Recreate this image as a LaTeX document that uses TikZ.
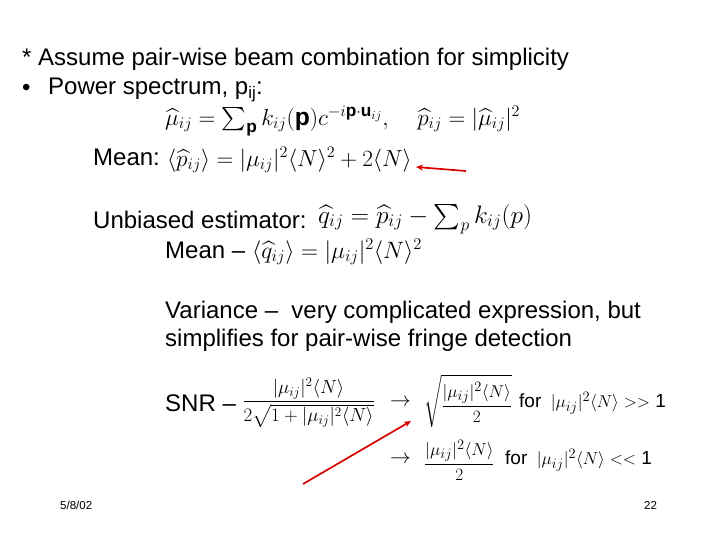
\documentclass[tikz,border=0pt]{standalone}
\usepackage{amsmath}
\usepackage{graphicx}
\usepackage{fontspec}
\setmainfont{Liberation Sans}
\usetikzlibrary{arrows.meta}
\begin{document}
\begin{tikzpicture}[x=1pt,y=-1pt,
  txt/.style={anchor=west,inner sep=0pt,font=\fontsize{24}{28}\selectfont},
  mth/.style={anchor=west,inner sep=0pt,font=\fontsize{22}{26}\selectfont},
  cnd/.style={anchor=west,inner sep=0pt,font=\fontsize{19}{22}\selectfont},
  small/.style={anchor=west,inner sep=0pt,font=\fontsize{11.5}{13}\selectfont},
  redarrow/.style={draw=red!85!black,line width=1.7pt,-{Stealth[length=7pt,width=6pt]}}]
\useasboundingbox[fill=white] (0,0) rectangle (720,540);
\node[txt] (t1) at (22,59) {* Assume pair-wise beam combination for simplicity};
\node[txt] (b1) at (22,90) {\textbullet};
\node[txt] (t2) at (48,90) {Power spectrum, p\textsubscript{ij}:};
\node[mth] (f1) at (165,121) {\scalebox{1.12}{$\widehat{\mu}_{ij}=\sum_{\mathbf{p}}k_{ij}(\mathbf{p})c^{-i\mathbf{p}\cdot\mathbf{u}_{ij}},\quad \widehat{p}_{ij}=|\widehat{\mu}_{ij}|^2$}};
\node[txt] (mean1) at (93,157) {Mean:};
\node[mth,font=\fontsize{21}{25}\selectfont] (f2) at (167,160) {\scalebox{1.12}{$\langle\widehat{p}_{ij}\rangle=|\mu_{ij}|^2\langle N\rangle^2+2\langle N\rangle$}};
\coordinate (a1) at (466,171);
\draw[redarrow] (a1) -- (416,167);
\node[txt] (ue) at (93,220) {Unbiased estimator:};
\node[mth] (f3) at (318,219) {\scalebox{1.22}{$\widehat{q}_{ij}=\widehat{p}_{ij}-\sum_{p}k_{ij}(p)$}};
\node[txt] (mean2) at (165,250) {Mean \textendash};
\node[mth,font=\fontsize{21}{25}\selectfont] (f4) at (252,252) {\scalebox{1.14}{$\langle\widehat{q}_{ij}\rangle=|\mu_{ij}|^2\langle N\rangle^2$}};
\node[txt,align=left] (var) at (165,326) {Variance \textendash\ \ very complicated expression, but\\simplifies for pair-wise fringe detection};
\node[txt] (snr) at (165,403) {SNR \textendash};
\node[mth,font=\fontsize{18.5}{22}\selectfont] (fr1) at (242,403) {\scalebox{1.1}{$\dfrac{|\mu_{ij}|^2\langle N\rangle}{2\sqrt{1+|\mu_{ij}|^2\langle N\rangle}}$}};
\node[mth,font=\fontsize{20}{23}\selectfont] (ar1) at (390,403) {$\rightarrow$};
\node[mth,font=\fontsize{19}{22}\selectfont] (sq) at (424,401) {$\sqrt{\dfrac{|\mu_{ij}|^2\langle N\rangle}{2}}$};
\node[cnd] (c1) at (519,403) {for\enspace$|\mu_{ij}|^2\langle N\rangle>>$ 1};
\node[mth,font=\fontsize{20}{23}\selectfont] (ar2) at (390,460) {$\rightarrow$};
\node[mth,font=\fontsize{19}{22}\selectfont] (fr2) at (424,460) {$\dfrac{|\mu_{ij}|^2\langle N\rangle}{2}$};
\node[cnd] (c2) at (505,460) {for\enspace$|\mu_{ij}|^2\langle N\rangle<<$ 1};
\coordinate (a2) at (303,484);
\draw[redarrow] (a2) -- (411,421);
\node[small] (date) at (60,505) {5/8/02};
\node[small] (pg) at (644,505) {22};
\end{tikzpicture}
\end{document}
